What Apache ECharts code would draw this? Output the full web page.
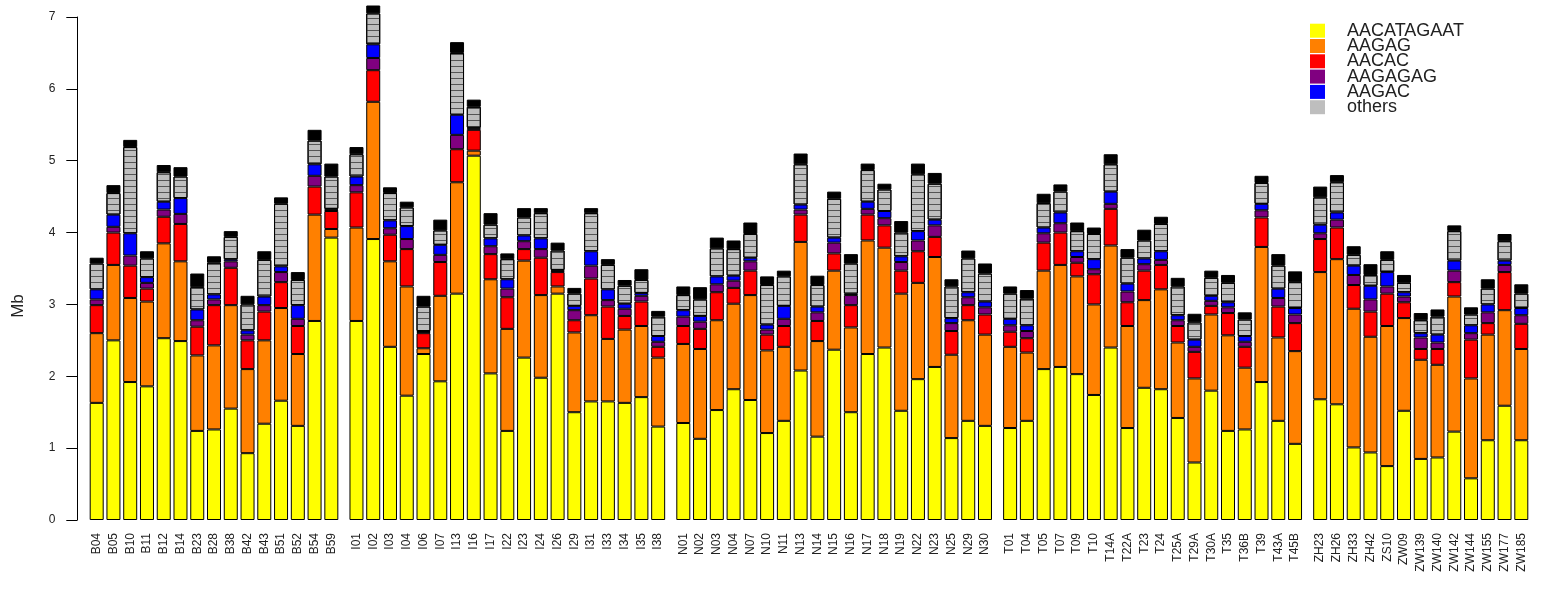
<!DOCTYPE html>
<html>
<head>
<meta charset="utf-8">
<script src="https://cdn.jsdelivr.net/npm/echarts@6/dist/echarts.min.js"></script>
<style>
html, body { margin: 0; padding: 0; background: #ffffff; }
#chart { width: 1546px; height: 604px; }
</style>
</head>
<body>
<div id="chart"></div>
<script>
// Sample groups (one cluster of bars per group)
const groupB = ['B04','B05','B10','B11','B12','B14','B23','B28','B38','B42','B43','B51','B52','B54','B59'];
const groupI = ['I01','I02','I03','I04','I06','I07','I13','I16','I17','I22','I23','I24','I26','I29','I31','I33','I34','I35','I38'];
const groupN = ['N01','N02','N03','N04','N07','N10','N11','N13','N14','N15','N16','N17','N18','N19','N22','N23','N25','N29','N30'];
const groupT = ['T01','T04','T05','T07','T09','T10','T14A','T22A','T23','T24','T25A','T29A','T30A','T35','T36B','T39','T43A','T45B'];
const groupZ = ['ZH23','ZH26','ZH33','ZH42','ZS10','ZW09','ZW139','ZW140','ZW142','ZW144','ZW155','ZW177','ZW185'];

// Repeat content per sample, Mb (stacked from the bottom)
const AACATAGAAT = [
  1.63,2.50,1.92,1.86,2.53,2.49,1.24,1.26,1.55,0.93,1.34,1.66,1.31,2.77,3.93,
  2.77,3.91,2.41,1.73,2.31,1.93,3.15,5.07,2.04,1.24,2.26,1.98,3.15,1.50,1.65,1.65,1.63,1.71,1.30,
  1.35,1.13,1.53,1.82,1.67,1.21,1.38,2.08,1.16,2.37,1.50,2.31,2.40,1.52,1.96,2.13,1.14,1.38,1.31,
  1.28,1.38,2.10,2.13,2.03,1.74,2.40,1.28,1.84,1.82,1.42,0.80,1.80,1.24,1.26,1.92,1.38,1.06,
  1.68,1.61,1.01,0.94,0.75,1.52,0.85,0.87,1.23,0.58,1.11,1.59,1.11
];
const AAGAG = [
  0.97,1.05,1.17,1.18,1.32,1.11,1.05,1.17,1.44,1.17,1.16,1.29,1.00,1.48,0.12,
  1.30,1.91,1.19,1.52,0.08,1.19,1.55,0.07,1.31,1.42,1.35,1.15,0.10,1.11,1.20,0.87,1.02,0.99,0.96,
  1.10,1.25,1.25,1.19,1.46,1.15,1.03,1.79,1.33,1.10,1.18,1.58,1.39,1.63,1.34,1.53,1.16,1.40,1.27,
  1.13,0.95,1.37,1.42,1.36,1.26,1.42,1.42,1.22,1.39,1.05,1.17,1.06,1.33,0.86,1.88,1.16,1.29,
  1.77,2.02,1.93,1.61,1.95,1.29,1.38,1.29,1.88,1.39,1.47,1.33,1.27
];
const AACAC = [
  0.39,0.45,0.45,0.18,0.37,0.52,0.40,0.56,0.52,0.40,0.40,0.36,0.39,0.39,0.25,
  0.49,0.44,0.37,0.52,0.21,0.47,0.46,0.29,0.35,0.44,0.16,0.52,0.20,0.17,0.51,0.45,0.19,0.34,0.15,
  0.25,0.28,0.39,0.22,0.34,0.22,0.29,0.38,0.28,0.24,0.31,0.36,0.31,0.32,0.44,0.28,0.33,0.21,0.28,
  0.21,0.20,0.39,0.45,0.19,0.42,0.51,0.33,0.41,0.34,0.23,0.37,0.12,0.31,0.29,0.41,0.43,0.39,
  0.46,0.44,0.33,0.35,0.45,0.22,0.15,0.22,0.20,0.54,0.16,0.53,0.35
];
const AAGAGAG = [
  0.08,0.08,0.14,0.08,0.10,0.14,0.09,0.08,0.09,0.08,0.09,0.14,0.10,0.15,0.02,
  0.10,0.17,0.09,0.14,0.02,0.10,0.20,0.02,0.11,0.12,0.11,0.12,0.02,0.14,0.18,0.09,0.10,0.08,0.07,
  0.13,0.10,0.11,0.10,0.13,0.07,0.10,0.07,0.12,0.15,0.14,0.08,0.10,0.12,0.15,0.16,0.11,0.11,0.10,
  0.09,0.10,0.13,0.13,0.08,0.07,0.07,0.15,0.09,0.07,0.08,0.07,0.07,0.08,0.07,0.10,0.12,0.12,
  0.08,0.11,0.14,0.17,0.10,0.08,0.16,0.09,0.16,0.09,0.15,0.10,0.12
];
const AAGAC = [
  0.14,0.17,0.31,0.08,0.11,0.22,0.15,0.07,0.03,0.06,0.12,0.08,0.19,0.16,0.01,
  0.12,0.19,0.11,0.18,0.01,0.14,0.28,0.01,0.11,0.13,0.08,0.15,0.01,0.06,0.20,0.15,0.07,0.04,0.08,
  0.09,0.08,0.11,0.07,0.05,0.07,0.18,0.07,0.08,0.07,0.02,0.10,0.10,0.08,0.13,0.08,0.07,0.07,0.08,
  0.09,0.08,0.08,0.15,0.08,0.14,0.17,0.11,0.08,0.12,0.07,0.10,0.07,0.07,0.08,0.09,0.13,0.09,
  0.12,0.10,0.13,0.19,0.20,0.06,0.06,0.11,0.14,0.11,0.11,0.06,0.10
];
const others = [
  0.36,0.30,1.20,0.26,0.41,0.30,0.31,0.44,0.31,0.36,0.51,0.87,0.35,0.33,0.45,
  0.31,0.43,0.38,0.26,0.34,0.20,0.86,0.29,0.19,0.28,0.25,0.35,0.27,0.17,0.53,0.34,0.25,0.18,0.27,
  0.21,0.23,0.39,0.37,0.33,0.55,0.41,0.56,0.30,0.54,0.42,0.44,0.30,0.33,0.79,0.50,0.44,0.47,0.39,
  0.35,0.37,0.34,0.29,0.28,0.35,0.38,0.36,0.25,0.38,0.40,0.24,0.25,0.27,0.23,0.29,0.32,0.36,
  0.38,0.42,0.15,0.15,0.17,0.13,0.18,0.25,0.41,0.15,0.22,0.27,0.20
];
// many tiny "other" repeats stacked at the top of each bar
const othersMinor = [
  0.08,0.11,0.10,0.10,0.10,0.13,0.19,0.09,0.08,0.12,0.12,0.09,0.11,0.15,0.18,
  0.10,0.11,0.08,0.08,0.15,0.15,0.15,0.10,0.16,0.08,0.13,0.07,0.11,0.08,0.07,0.08,0.08,0.15,0.08,
  0.12,0.17,0.15,0.12,0.16,0.12,0.08,0.15,0.13,0.10,0.13,0.09,0.08,0.16,0.15,0.15,0.10,0.11,0.14,
  0.10,0.12,0.13,0.10,0.12,0.09,0.14,0.12,0.15,0.10,0.12,0.12,0.10,0.11,0.10,0.10,0.16,0.15,
  0.15,0.10,0.12,0.15,0.12,0.11,0.10,0.10,0.08,0.10,0.13,0.10,0.13
];

const yTicks = [0, 1, 2, 3, 4, 5, 6, 7];
const legendNames = ['AACATAGAAT', 'AAGAG', 'AACAC', 'AAGAGAG', 'AAGAC', 'others'];

// Half-width slots on the category axis: every bar takes two slots,
// and one extra slot separates consecutive groups.
const groups = [groupB, groupI, groupN, groupT, groupZ];
const slotOfBar = [];
let barCount = 0;
groups.forEach((g, gi) => g.forEach(() => { slotOfBar.push(2 * barCount + gi); barCount++; }));
const slotCount = slotOfBar[slotOfBar.length - 1] + 1;
const slotLabels = new Array(slotCount).fill('');
const sampleNames = [].concat(...groups);
slotOfBar.forEach((s, i) => { slotLabels[s] = sampleNames[i]; });

function toSlots(values) {
  const out = new Array(slotCount).fill('-');
  slotOfBar.forEach((s, i) => { out[s] = values[i]; });
  return out;
}

const FONT = '"Liberation Sans", Arial, Helvetica, sans-serif';

function barSeries(name, values, color, decal) {
  const itemStyle = { color: color, borderColor: '#000000', borderWidth: 1 };
  if (decal) itemStyle.decal = decal;
  return {
    name: name,
    type: 'bar',
    stack: 'total',
    barWidth: 14,
    clip: false,
    animation: false,
    data: toSlots(values),
    itemStyle: itemStyle
  };
}

// one single-entry legend per row, so the rows sit tightly like the original key
const legends = legendNames.map((name, k) => ({
  orient: 'vertical',
  left: 1310,
  top: 21.7 + 15.3 * k,
  padding: 0,
  itemWidth: 15,
  itemHeight: 14,
  icon: 'rect',
  selectedMode: false,
  itemStyle: { borderWidth: 0, decal: 'none' },
  textStyle: { fontFamily: FONT, fontSize: 18, color: '#222222', lineHeight: 10, padding: [4, 0, 0, 17] },
  data: [{ name: name, itemStyle: { borderWidth: 0, decal: 'none' } }]
}));

const chart = echarts.init(document.getElementById('chart'), null, { renderer: 'canvas' });
chart.setOption({
  backgroundColor: '#ffffff',
  animation: false,
  textStyle: { fontFamily: FONT },
  grid: { left: 92.5, right: 20.5, top: 17, bottom: 84, containLabel: false },
  legend: legends,
  xAxis: {
    type: 'category',
    data: slotLabels,
    boundaryGap: true,
    axisLine: { show: false },
    axisTick: { show: false },
    splitLine: { show: false },
    axisLabel: {
      interval: 0,
      rotate: 90,
      margin: 13,
      fontSize: 12,
      fontFamily: FONT,
      color: '#222222'
    }
  },
  yAxis: {
    type: 'value',
    min: yTicks[0],
    max: yTicks[yTicks.length - 1],
    interval: 1,
    offset: 15.2,
    axisLine: { show: true, lineStyle: { color: '#000000', width: 1 } },
    axisTick: { show: true, length: 11, lineStyle: { color: '#000000', width: 1 } },
    splitLine: { show: false },
    axisLabel: { fontSize: 12, fontFamily: FONT, color: '#222222', margin: 22 }
  },
  graphic: [{
    type: 'text',
    x: 18,
    y: 306,
    rotation: Math.PI / 2,
    style: { text: 'Mb', fontSize: 17, fontFamily: FONT, fill: '#222222', align: 'center', verticalAlign: 'middle' }
  }],
  series: [
    barSeries('AACATAGAAT', AACATAGAAT, '#FFFF00'),
    barSeries('AAGAG', AAGAG, '#FF8000'),
    barSeries('AACAC', AACAC, '#FF0000'),
    barSeries('AAGAGAG', AAGAGAG, '#800080'),
    barSeries('AAGAC', AAGAC, '#0000FF'),
    barSeries('others', others, '#BEBEBE',
      { symbol: 'rect', symbolSize: 1, dashArrayX: [1, 0], dashArrayY: [1, 5], color: '#555555', rotation: 0 }),
    barSeries('minor repeats', othersMinor, '#000000')
  ]
});
</script>
</body>
</html>
